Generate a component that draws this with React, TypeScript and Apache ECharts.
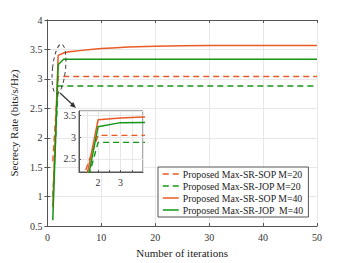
import React, { useEffect, useRef } from "react";
import * as echarts from "echarts";

const iterations = [1, 2, 3, 4, 5, 6, 8, 10, 12, 15, 20, 25, 30, 40, 50];
const sopM20 = [1.6, 3.04, 3.04, 3.04, 3.04, 3.04, 3.04, 3.04, 3.04, 3.04, 3.04, 3.04, 3.04, 3.04, 3.04];
const jopM20 = [1.0, 2.88, 2.88, 2.88, 2.88, 2.88, 2.88, 2.88, 2.88, 2.88, 2.88, 2.88, 2.88, 2.88, 2.88];
const sopM40 = [0.82, 3.4, 3.44, 3.46, 3.47, 3.48, 3.5, 3.515, 3.525, 3.54, 3.555, 3.562, 3.565, 3.565, 3.565];
const jopM40 = [0.6, 3.24, 3.333, 3.335, 3.335, 3.335, 3.335, 3.335, 3.335, 3.335, 3.335, 3.335, 3.335, 3.335, 3.335];

const seriesNames = [
  "Proposed Max-SR-SOP M=20",
  "Proposed Max-SR-JOP M=20",
  "Proposed Max-SR-SOP M=40",
  "Proposed Max-SR-JOP  M=40",
];
const xTicksMain = { min: 0, max: 50, interval: 10 };
const yTicksMain = { min: 0.5, max: 4, interval: 0.5 };
const insetX = { min: 1.15, max: 4 };
const insetY = { min: 2.2, max: 3.6 };

const ORANGE = "#E95B25";
const GREEN = "#149614";
const FONT = "'Liberation Serif', 'Times New Roman', serif";

export default function App() {
  const ref = useRef<HTMLDivElement>(null);
  useEffect(() => {
    if (!ref.current) return;
    const chart = echarts.init(ref.current, undefined, { renderer: "svg" });
    const pairs = (vals: number[]) => iterations.map((x, i) => [x, vals[i]]);
    const allData = [sopM20, jopM20, sopM40, jopM40];
    const styles = [
      { color: ORANGE, type: [6, 4] as any, width: 1.4 },
      { color: GREEN, type: [6, 4] as any, width: 1.4 },
      { color: ORANGE, type: "solid", width: 1.5 },
      { color: GREEN, type: "solid", width: 1.5 },
    ];
    const mkSeries = (gridIdx: number) =>
      allData.map((d, i) => ({
        name: seriesNames[i],
        type: "line",
        xAxisIndex: gridIdx === 0 ? 0 : 2,
        yAxisIndex: gridIdx === 0 ? 0 : 2,
        data: pairs(d),
        symbol: "none",
        color: styles[i].color,
        itemStyle: { opacity: 0 },
        lineStyle: { ...styles[i] },
        z: gridIdx === 0 ? 2 : 5,
        clip: true,
      }));

    const axisLine = { show: true, lineStyle: { color: "#555", width: 1 } };
    const tickIn = { show: true, inside: true, length: 3, lineStyle: { color: "#555" } };
    const splitLine = { show: true, lineStyle: { color: "#e8e8e8", width: 1 } };
    const labelStyle = { fontFamily: FONT, fontSize: 10, color: "#333" };

    chart.setOption({
      animation: false,
      grid: [
        { left: 45, top: 20, right: 33, bottom: 31, show: false },
        {
          left: 79, top: 111, width: 64, height: 61, show: true,
          backgroundColor: "#fff", borderColor: "#555", borderWidth: 1, z: 1,
        },
      ],
      xAxis: [
        {
          type: "value", gridIndex: 0, ...xTicksMain,
          axisLine, axisTick: tickIn, splitLine,
          axisLabel: { ...labelStyle, margin: 6 },
          name: "Number of iterations", nameLocation: "middle", nameGap: 17,
          nameTextStyle: { fontFamily: FONT, fontSize: 11, color: "#222" },
          z: 0,
        },
        {
          type: "value", gridIndex: 0, position: "top", ...xTicksMain,
          axisLine, axisTick: tickIn, splitLine: { show: false }, axisLabel: { show: false }, z: 0,
        },
        {
          type: "value", gridIndex: 1, ...insetX, splitNumber: 6,
          axisLine, axisTick: { ...tickIn, length: 2 }, splitLine,
          axisLabel: {
            ...labelStyle, margin: 5, showMinLabel: false, showMaxLabel: false,
            formatter: (v: number) => (Math.abs(v - Math.round(v)) < 1e-6 ? String(Math.round(v)) : ""),
          },
          z: 2,
        },
      ],
      yAxis: [
        {
          type: "value", gridIndex: 0, ...yTicksMain,
          axisLine, axisTick: tickIn, splitLine,
          axisLabel: { ...labelStyle, margin: 5 },
          name: "Secrecy Rate (bits/s/Hz)", nameLocation: "middle", nameGap: 20,
          nameTextStyle: { fontFamily: FONT, fontSize: 11, color: "#222" },
          z: 0,
        },
        {
          type: "value", gridIndex: 0, position: "right", ...yTicksMain,
          axisLine, axisTick: tickIn, splitLine: { show: false }, axisLabel: { show: false }, z: 0,
        },
        {
          type: "value", gridIndex: 1, ...insetY, splitNumber: 3,
          axisLine, axisTick: { ...tickIn, length: 2 }, splitLine,
          axisLabel: {
            ...labelStyle, margin: 3, showMinLabel: false, showMaxLabel: false,
            formatter: (v: number) => (Math.abs(v * 2 - Math.round(v * 2)) < 1e-6 ? String(v) : ""),
          },
          z: 2,
        },
      ],
      legend: {
        data: seriesNames,
        orient: "vertical",
        left: 158,
        top: 167,
        itemWidth: 16,
        itemHeight: 11,
        itemGap: 2,
        padding: [2, 5, 2, 4],
        backgroundColor: "#fff",
        borderColor: "#555",
        borderWidth: 1,
        borderRadius: 0,
        itemStyle: { opacity: 0 },
        lineStyle: { type: "inherit", width: "inherit" },
        textStyle: { fontFamily: FONT, fontSize: 9.8, color: "#222", padding: [0, 0, 0, -1] },
        z: 10,
      },
      graphic: [
        {
          type: "ellipse",
          x: 59, y: 69,
          rotation: -0.1,
          shape: { cx: 0, cy: 0, rx: 6.5, ry: 25 },
          style: { fill: "none", stroke: "#444", lineWidth: 1, lineDash: [4, 3] },
          z: 20,
        },
        {
          type: "line",
          shape: { x1: 60, y1: 93, x2: 73, y2: 105 },
          style: { stroke: "#333", lineWidth: 1.2 },
          z: 20,
        },
        {
          type: "polygon",
          shape: { points: [[76, 108], [69.9, 105.9], [73.2, 102.1]] },
          style: { fill: "#333" },
          z: 20,
        },
      ],
      series: [...mkSeries(0), ...mkSeries(1)],
    });
    return () => chart.dispose();
  }, []);
  return <div ref={ref} style={{ width: 350, height: 263, position: "absolute", left: 0, top: 0 }} />;
}
